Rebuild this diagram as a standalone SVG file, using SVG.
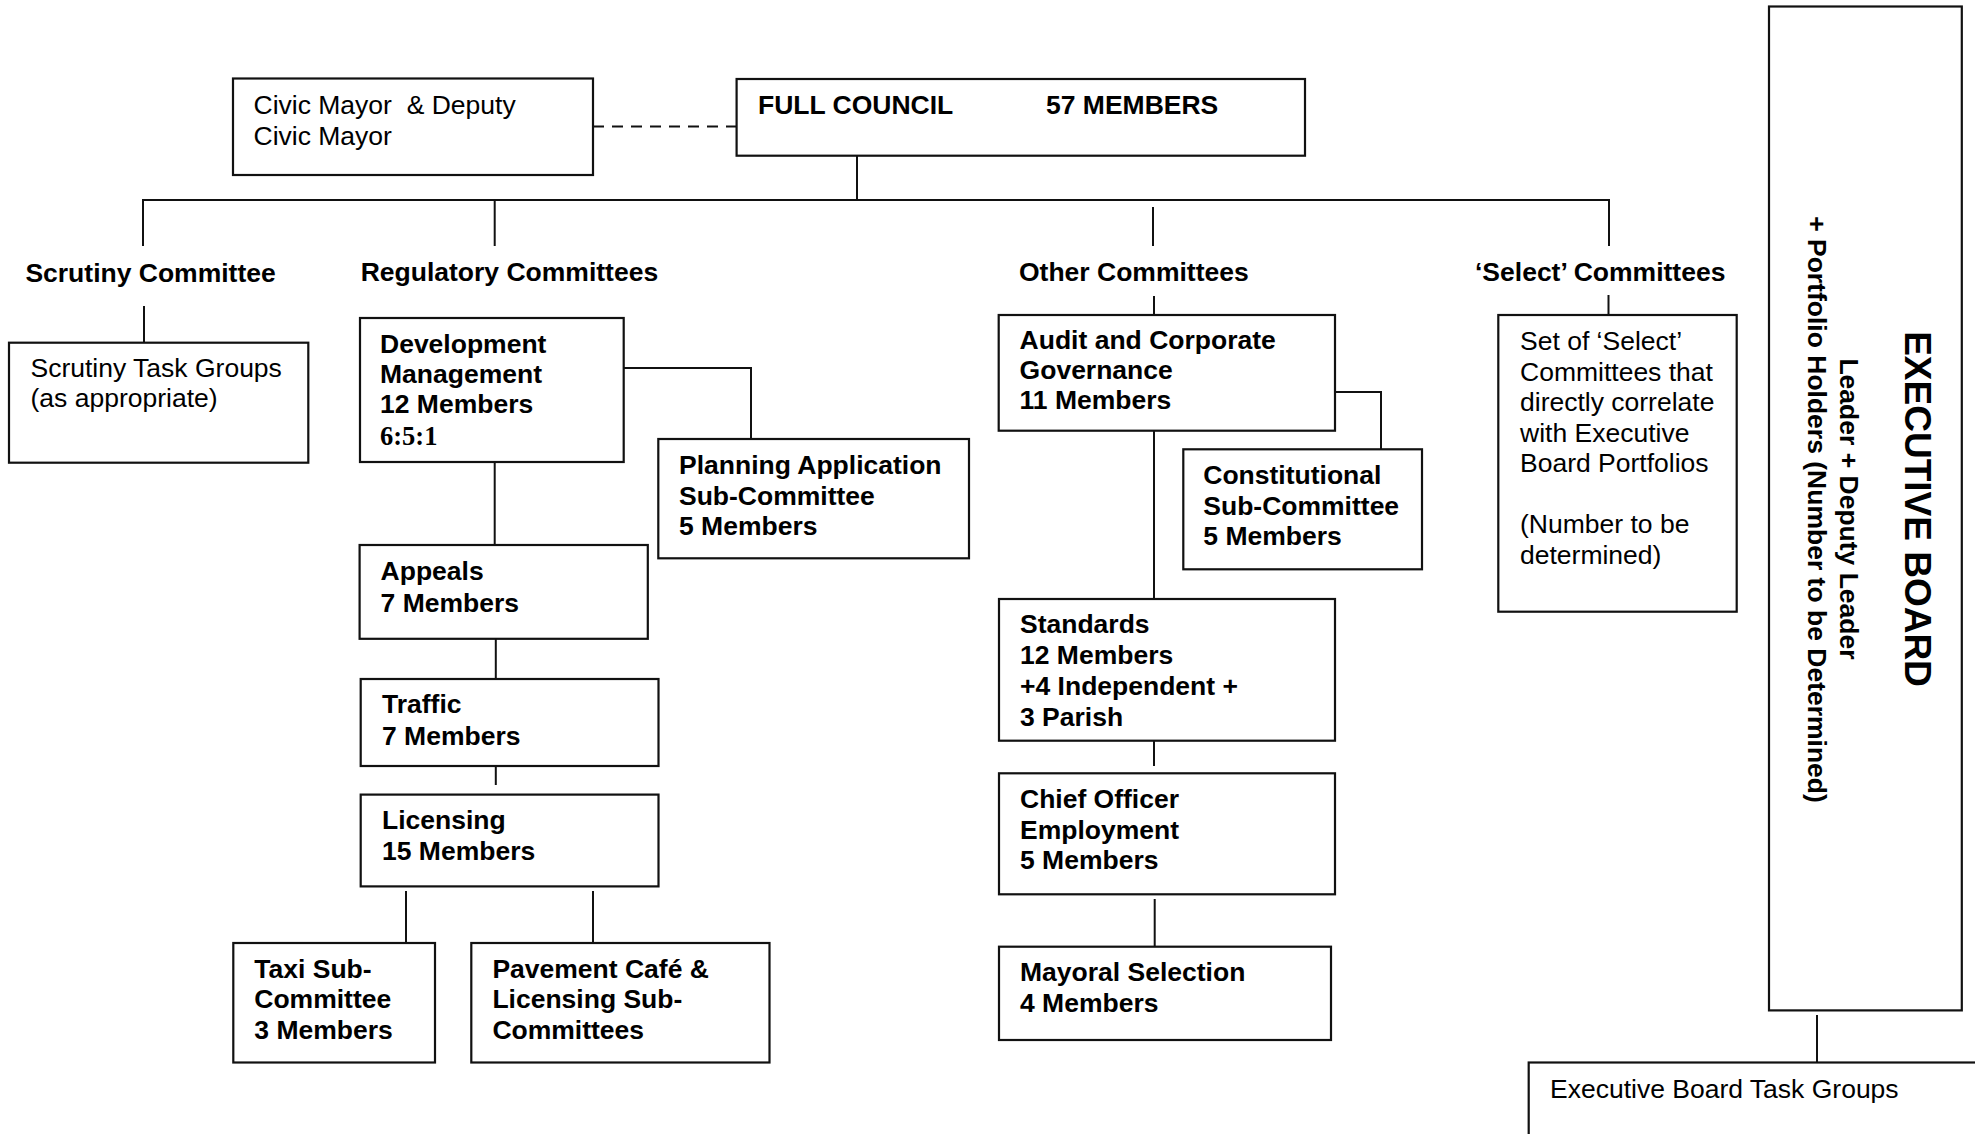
<svg xmlns="http://www.w3.org/2000/svg" width="1975" height="1134" viewBox="0 0 1975 1134">
  <style>
    .box { fill: #fff; stroke: #111; stroke-width: 2.2; }
    .link { fill: none; stroke: #111; stroke-width: 2; }
    .dash { fill: none; stroke: #111; stroke-width: 2; stroke-dasharray: 11 8; }
    text { font-family: "Liberation Sans", Arial, sans-serif; font-size: 26.5px; fill: #000; }
    .b { font-weight: bold; }
    .serif { font-family: "Liberation Serif", "Times New Roman", serif; font-weight: bold; }
    .big { font-size: 37px; font-weight: bold; }
  </style>
  <rect width="1975" height="1134" fill="#fff"/>

  <!-- connectors -->
  <g id="connectors">
    <path class="dash" d="M593 126.5 H737"/>
    <path class="link" d="M857 151 V200"/>
    <path class="link" d="M143 246 V200 H1609 V246"/>
    <path class="link" d="M494.7 200 V246"/>
    <path class="link" d="M1153 207 V246"/>
    <!-- scrutiny -->
    <path class="link" d="M144 306 V343"/>
    <!-- regulatory -->
    <path class="link" d="M623.7 368 H751 V439"/>
    <path class="link" d="M494.7 462 V545"/>
    <path class="link" d="M495.8 639 V679"/>
    <path class="link" d="M495.8 767 V785"/>
    <path class="link" d="M406 891 V943"/>
    <path class="link" d="M593 891 V943"/>
    <!-- other -->
    <path class="link" d="M1154 296 V315"/>
    <path class="link" d="M1335 392 H1381 V449.5"/>
    <path class="link" d="M1154 430.7 V599"/>
    <path class="link" d="M1154 741 V766"/>
    <path class="link" d="M1154.7 899 V946.7"/>
    <!-- select -->
    <path class="link" d="M1608.5 295 V315"/>
    <!-- executive -->
    <path class="link" d="M1817 1015 V1062.5"/>
  </g>

  <g id="civic-mayor">
    <rect class="box" x="233" y="78.5" width="360" height="96.5"/>
    <text x="253.5" y="114">Civic Mayor&#160; &amp; Deputy</text>
    <text x="253.5" y="145">Civic Mayor</text>
  </g>

  <g id="full-council">
    <rect class="box" x="736.6" y="79" width="568.4" height="76.7"/>
    <text class="b" x="758" y="114">FULL COUNCIL</text>
    <text class="b" x="1046" y="114">57 MEMBERS</text>
  </g>

  <g id="scrutiny-committee">
    <text class="b" x="25.4" y="281.5">Scrutiny Committee</text>
  </g>
  <g id="scrutiny-task-groups">
    <rect class="box" x="9" y="342.7" width="299.3" height="120"/>
    <text x="30.5" y="377.3">Scrutiny Task Groups</text>
    <text x="30.5" y="407.3">(as appropriate)</text>
  </g>

  <g id="regulatory-committees">
    <text class="b" x="360.7" y="281">Regulatory Committees</text>
  </g>
  <g id="development-management">
    <rect class="box" x="360" y="318" width="263.7" height="144"/>
    <text class="b" x="380" y="353.3">Development</text>
    <text class="b" x="380" y="383.3">Management</text>
    <text class="b" x="380" y="413.3">12 Members</text>
    <text class="serif" x="380" y="445">6:5:1</text>
  </g>
  <g id="planning-application">
    <rect class="box" x="658.3" y="439" width="310.7" height="119.3"/>
    <text class="b" x="679" y="474">Planning Application</text>
    <text class="b" x="679" y="504.5">Sub-Committee</text>
    <text class="b" x="679" y="535">5 Members</text>
  </g>
  <g id="appeals">
    <rect class="box" x="359.6" y="545" width="288.2" height="93.8"/>
    <text class="b" x="380.6" y="580">Appeals</text>
    <text class="b" x="380.6" y="612">7 Members</text>
  </g>
  <g id="traffic">
    <rect class="box" x="360.7" y="679" width="297.8" height="87"/>
    <text class="b" x="382" y="713.4">Traffic</text>
    <text class="b" x="382" y="744.8">7 Members</text>
  </g>
  <g id="licensing">
    <rect class="box" x="360.7" y="794.6" width="297.8" height="91.8"/>
    <text class="b" x="382" y="829">Licensing</text>
    <text class="b" x="382" y="859.6">15 Members</text>
  </g>
  <g id="taxi">
    <rect class="box" x="233.3" y="943" width="201.7" height="119.5"/>
    <text class="b" x="254.3" y="977.5">Taxi Sub-</text>
    <text class="b" x="254.3" y="1008">Committee</text>
    <text class="b" x="254.3" y="1038.7">3 Members</text>
  </g>
  <g id="pavement-cafe">
    <rect class="box" x="471.3" y="943" width="298.2" height="119.5"/>
    <text class="b" x="492.4" y="977.5">Pavement Café &amp;</text>
    <text class="b" x="492.4" y="1008">Licensing Sub-</text>
    <text class="b" x="492.4" y="1038.7">Committees</text>
  </g>

  <g id="other-committees">
    <text class="b" x="1019" y="280.7">Other Committees</text>
  </g>
  <g id="audit">
    <rect class="box" x="998.7" y="315" width="336.3" height="115.7"/>
    <text class="b" x="1019.6" y="348.5">Audit and Corporate</text>
    <text class="b" x="1019.6" y="378.7">Governance</text>
    <text class="b" x="1019.6" y="409">11 Members</text>
  </g>
  <g id="constitutional">
    <rect class="box" x="1183.3" y="449.3" width="238.7" height="120"/>
    <text class="b" x="1203.3" y="484">Constitutional</text>
    <text class="b" x="1203.3" y="514.5">Sub-Committee</text>
    <text class="b" x="1203.3" y="545">5 Members</text>
  </g>
  <g id="standards">
    <rect class="box" x="999" y="599" width="336" height="141.7"/>
    <text class="b" x="1020" y="633">Standards</text>
    <text class="b" x="1020" y="664">12 Members</text>
    <text class="b" x="1020" y="695">+4 Independent +</text>
    <text class="b" x="1020" y="725.7">3 Parish</text>
  </g>
  <g id="chief-officer">
    <rect class="box" x="999" y="773.3" width="336" height="121"/>
    <text class="b" x="1020" y="808.3">Chief Officer</text>
    <text class="b" x="1020" y="838.5">Employment</text>
    <text class="b" x="1020" y="869.3">5 Members</text>
  </g>
  <g id="mayoral-selection">
    <rect class="box" x="999" y="946.7" width="332" height="93.3"/>
    <text class="b" x="1020" y="980.7">Mayoral Selection</text>
    <text class="b" x="1020" y="1011.7">4 Members</text>
  </g>

  <g id="select-committees">
    <text class="b" x="1475" y="281">‘Select’ Committees</text>
  </g>
  <g id="select-set">
    <rect class="box" x="1498.3" y="315" width="238.4" height="296.7"/>
    <text x="1520" y="350">Set of ‘Select’</text>
    <text x="1520" y="380.5">Committees that</text>
    <text x="1520" y="411">directly correlate</text>
    <text x="1520" y="441.5">with Executive</text>
    <text x="1520" y="472">Board Portfolios</text>
    <text x="1520" y="533">(Number to be</text>
    <text x="1520" y="563.5">determined)</text>
  </g>

  <g id="executive-board">
    <rect class="box" x="1769" y="6.5" width="192.8" height="1003.9"/>
    <text class="big" text-anchor="middle" transform="translate(1905 509) rotate(90)">EXECUTIVE BOARD</text>
    <text class="b" text-anchor="middle" transform="translate(1839.5 509) rotate(90)">Leader + Deputy Leader</text>
    <text class="b" text-anchor="middle" transform="translate(1808 509.5) rotate(90)">+ Portfolio Holders (Number to be Determined)</text>
  </g>

  <g id="executive-task-groups">
    <rect class="box" x="1528.7" y="1062.5" width="470" height="100"/>
    <text x="1550" y="1098">Executive Board Task Groups</text>
  </g>
</svg>
